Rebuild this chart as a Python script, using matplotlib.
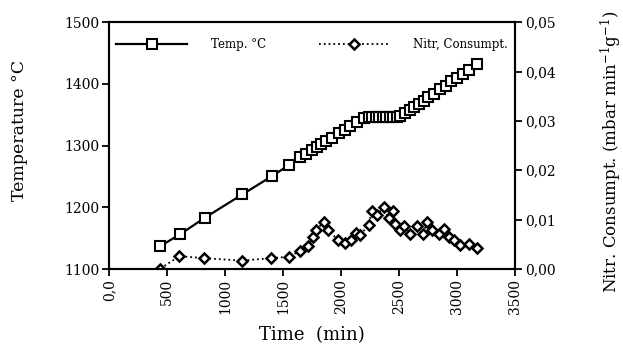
import numpy as np
import matplotlib
matplotlib.use("Agg")
import matplotlib.pyplot as plt

plt.rcParams['font.family'] = ['DejaVu Serif']
plt.rcParams['mathtext.fontset'] = 'dejavuserif'

# temperature series
temp_time = [440, 610, 825, 1150, 1400, 1555, 1645, 1700, 1750, 1790, 1830, 1870,
             1920, 1980, 2030, 2080, 2140, 2200, 2240, 2270, 2300, 2330, 2360, 2390,
             2420, 2450, 2480, 2510, 2550, 2590, 2630, 2670, 2710, 2750, 2800, 2850,
             2900, 2950, 3000, 3050, 3100, 3170]
temp_val = [1137, 1156, 1183, 1221, 1250, 1269, 1281, 1287, 1293, 1297, 1302, 1307,
            1313, 1320, 1326, 1332, 1339, 1344, 1346, 1347, 1347, 1347, 1347, 1347,
            1347, 1347, 1347, 1348, 1352, 1357, 1362, 1367, 1373, 1378, 1384, 1391,
            1397, 1404, 1410, 1416, 1423, 1432]

# nitrogen consumption series
nitr_time = [443, 607, 820, 1147, 1394, 1555, 1644, 1713, 1756, 1787, 1851, 1885,
             1971, 2029, 2086, 2132, 2166, 2238, 2267, 2310, 2367, 2410, 2444, 2468,
             2505, 2545, 2597, 2654, 2703, 2741, 2784, 2847, 2884, 2927, 2970, 3028,
             3099, 3171]
nitr_val = [0.0001, 0.0026, 0.0022, 0.0017, 0.0022, 0.0025, 0.0037, 0.0047, 0.0064,
            0.0079, 0.0096, 0.0080, 0.0059, 0.0052, 0.0059, 0.0072, 0.0069, 0.0090,
            0.0118, 0.0109, 0.0126, 0.0103, 0.0118, 0.0092, 0.0080, 0.0087, 0.0070,
            0.0087, 0.0070, 0.0096, 0.0079, 0.0070, 0.0082, 0.0065, 0.0059, 0.0049,
            0.0050, 0.0042]

xticks = [0, 500, 1000, 1500, 2000, 2500, 3000, 3500]
xtick_labels = ['0,0', '500', '1000', '1500', '2000', '2500', '3000', '3500']
yticks = [1100, 1200, 1300, 1400, 1500]
y2ticks = [0.0, 0.01, 0.02, 0.03, 0.04, 0.05]
y2tick_labels = ['0,00', '0,01', '0,02', '0,03', '0,04', '0,05']

fig = plt.figure(figsize=(6.23, 3.46), dpi=100)
ax1 = fig.add_axes([0.175, 0.2225, 0.652, 0.7135])
ax2 = ax1.twinx()

l1, = ax1.plot(temp_time, temp_val, '-', color='black', lw=1.6, marker='s',
               markersize=6.5, markerfacecolor='white', markeredgecolor='black',
               markeredgewidth=1.5, label='Temp. °C')
l2, = ax2.plot(nitr_time, nitr_val, ':', color='black', lw=1.3, marker='D',
               markersize=5, markerfacecolor='white', markeredgecolor='black',
               markeredgewidth=1.8, label='Nitr, Consumpt.')

ax1.set_xlim(0, 3500)
ax1.set_ylim(1100, 1500)
ax2.set_ylim(0, 0.05)

ax1.set_xticks(xticks)
ax1.set_xticklabels(xtick_labels, rotation=90, fontsize=10)
ax1.set_yticks(yticks)
ax1.set_yticklabels([str(v) for v in yticks], fontsize=10)
ax2.set_yticks(y2ticks)
ax2.set_yticklabels(y2tick_labels, fontsize=10)

for a in (ax1, ax2):
    a.tick_params(direction='out', length=5, width=1.3, pad=2)
    for s in a.spines.values():
        s.set_linewidth(1.5)

ax1.set_xlabel('Time  (min)', fontsize=13, labelpad=9)
ax1.set_ylabel('Temperature °C', fontsize=12.5)
ax1.yaxis.set_label_coords(-0.2, 0.56)
ax2.set_ylabel('Nitr. Consumpt. (mbar min$^{-1}$g$^{-1}$)', fontsize=12)
ax2.yaxis.set_label_coords(1.205, 0.475)

ax1.legend(handles=[l1, l2], loc='upper center', bbox_to_anchor=(0.5, 0.965),
           ncol=2, frameon=False, fontsize=8.5, handlelength=6,
           columnspacing=4.5, handletextpad=2.0, borderaxespad=0.2)

fig.savefig('out.png', dpi=100)
